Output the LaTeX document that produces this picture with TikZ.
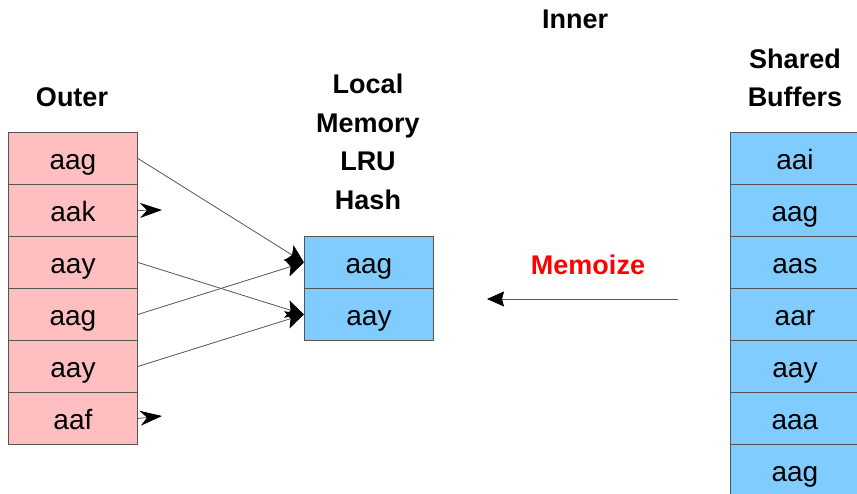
\documentclass[tikz,border=0pt]{standalone}
\usepackage{fontspec}
\setmainfont{Liberation Sans}
\usetikzlibrary{arrows.meta}
\definecolor{pinkbox}{RGB}{255,190,192}
\definecolor{bluebox}{RGB}{128,204,255}
\definecolor{edge}{RGB}{85,85,85}
\begin{document}
\begin{tikzpicture}[x=1pt,y=-1pt,
  cell/.style={draw=edge,line width=0.9pt,minimum width=129pt,minimum height=52pt,inner sep=0pt,
    font=\fontsize{28}{32}\selectfont,text height=23pt,text depth=0pt,anchor=north west},
  outercell/.style={cell,fill=pinkbox},
  bluecell/.style={cell,fill=bluebox},
  lbl/.style={font=\fontsize{27}{38.5}\selectfont\bfseries,align=center,inner sep=0pt},
  conn/.style={draw=edge,line width=0.8pt,-{Stealth[length=18pt,width=18pt,inset=4pt,black]}},
  stub/.style={draw=edge,line width=0.8pt,-{Stealth[length=22pt,width=15pt,inset=7pt,black]}}
]
\useasboundingbox (0,0) rectangle (857,494);
\clip (0,0) rectangle (857,494);
% Outer
\node[outercell] (o1) at (8,132) {aag};
\node[outercell] (o2) at (8,184) {aak};
\node[outercell] (o3) at (8,236) {aay};
\node[outercell] (o4) at (8,288) {aag};
\node[outercell] (o5) at (8,340) {aay};
\node[outercell] (o6) at (8,392) {aaf};
% Local
\node[bluecell] (l1) at (304,236) {aag};
\node[bluecell] (l2) at (304,288) {aay};
% Shared
\node[bluecell] (s1) at (730,132) {aai};
\node[bluecell] (s2) at (730,184) {aag};
\node[bluecell] (s3) at (730,236) {aas};
\node[bluecell] (s4) at (730,288) {aar};
\node[bluecell] (s5) at (730,340) {aay};
\node[bluecell] (s6) at (730,392) {aaa};
\node[bluecell] (s7) at (730,444) {aag};
% Labels
\node[lbl] (tinner) at (575,19) {Inner};
\node[lbl] (touter) at (72,97) {Outer};
\node[lbl] (tlocal) at (368,142) {Local\\Memory\\LRU\\Hash};
\node[lbl] (tshared) at (795,78) {Shared\\Buffers};
\node[lbl,text=red] (tmemo) at (588,265) {Memoize};
% Connectors
\draw[conn] (o1.east) -- (l1.west);
\draw[conn] (o4.east) -- (l1.west);
\draw[conn] (o3.east) -- (l2.west);
\draw[conn] (o5.east) -- (l2.west);
\coordinate (k2) at (162,210);
\coordinate (k6) at (162,416);
\draw[stub] (o2.east) -- (k2);
\draw[stub] (o6.east) -- (k6);
\coordinate (mstart) at (678,299);
\coordinate (mend) at (487,299);
\draw[draw=edge,line width=0.9pt,-{Stealth[length=17pt,width=15pt,inset=2pt,black]}] (mstart) -- (mend);
\end{tikzpicture}
\end{document}
